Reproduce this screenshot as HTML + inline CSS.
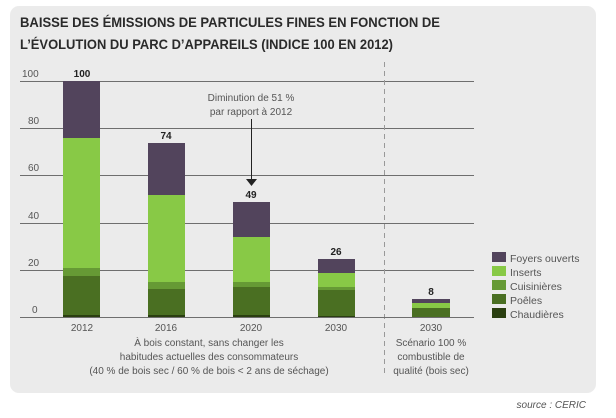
<!DOCTYPE html>
<html><head><meta charset="utf-8"><style>
html,body{margin:0;padding:0;background:#fff;}
svg{display:block;font-family:"Liberation Sans",sans-serif;}
</style></head><body>
<svg width="616" height="418" viewBox="0 0 616 418">
<rect x="10" y="6" width="586" height="387" rx="9" fill="#ebebeb"/>
<text x="20" y="27" font-size="14" font-weight="bold" fill="#2a2a2a" textLength="420" lengthAdjust="spacingAndGlyphs">BAISSE DES ÉMISSIONS DE PARTICULES FINES EN FONCTION DE</text>
<text x="20" y="49" font-size="14" font-weight="bold" fill="#2a2a2a" textLength="373" lengthAdjust="spacingAndGlyphs">L’ÉVOLUTION DU PARC D’APPAREILS (INDICE 100 EN 2012)</text>
<g stroke="#6e6e6e" stroke-width="1">
<line x1="20" y1="81.5" x2="474" y2="81.5"/>
<line x1="20" y1="128.5" x2="474" y2="128.5"/>
<line x1="20" y1="175.5" x2="474" y2="175.5"/>
<line x1="20" y1="223.5" x2="474" y2="223.5"/>
<line x1="20" y1="270.5" x2="474" y2="270.5"/>
</g>
<g font-size="10" fill="#555">
<text x="22" y="77">100</text><text x="28" y="124">80</text><text x="28" y="171">60</text><text x="28" y="219">40</text><text x="28" y="266">20</text><text x="32" y="313">0</text>
</g>
<line x1="384.5" y1="62" x2="384.5" y2="376" stroke="#999" stroke-dasharray="5,4"/>
<!-- bars -->
<g>
<rect x="63" y="81" width="37" height="57" fill="#52445c"/>
<rect x="63" y="138" width="37" height="130" fill="#88c946"/>
<rect x="63" y="268" width="37" height="8" fill="#669a35"/>
<rect x="63" y="276" width="37" height="39" fill="#4a6f22"/>
<rect x="63" y="315" width="37" height="2" fill="#2a3f10"/>

<rect x="148" y="143" width="37" height="52" fill="#52445c"/>
<rect x="148" y="195" width="37" height="87" fill="#88c946"/>
<rect x="148" y="282" width="37" height="7" fill="#669a35"/>
<rect x="148" y="289" width="37" height="26" fill="#4a6f22"/>
<rect x="148" y="315" width="37" height="2" fill="#2a3f10"/>

<rect x="233" y="202" width="37" height="35" fill="#52445c"/>
<rect x="233" y="237" width="37" height="45" fill="#88c946"/>
<rect x="233" y="282" width="37" height="5" fill="#669a35"/>
<rect x="233" y="287" width="37" height="28" fill="#4a6f22"/>
<rect x="233" y="315" width="37" height="2" fill="#2a3f10"/>

<rect x="318" y="259" width="37" height="14" fill="#52445c"/>
<rect x="318" y="273" width="37" height="14" fill="#88c946"/>
<rect x="318" y="287" width="37" height="3" fill="#669a35"/>
<rect x="318" y="290" width="37" height="26" fill="#4a6f22"/>
<rect x="318" y="316" width="37" height="1" fill="#2a3f10"/>

<rect x="412" y="299" width="38" height="4" fill="#52445c"/>
<rect x="412" y="303" width="38" height="5" fill="#88c946"/>
<rect x="412" y="308" width="38" height="9" fill="#4a6f22"/>
</g>
<line x1="20" y1="317.5" x2="474" y2="317.5" stroke="#6e6e6e"/>
<g font-size="10" font-weight="bold" fill="#222" text-anchor="middle">
<text x="82" y="77">100</text><text x="166" y="139">74</text><text x="251" y="198">49</text><text x="336" y="255">26</text><text x="431" y="295">8</text>
</g>
<g font-size="10" fill="#555" text-anchor="middle">
<text x="251" y="101">Diminution de 51 %</text>
<text x="251" y="115">par rapport à 2012</text>
</g>
<line x1="251.5" y1="119" x2="251.5" y2="180" stroke="#222"/>
<polygon points="246,179 257,179 251.5,186" fill="#222"/>
<g font-size="10" fill="#555" text-anchor="middle">
<text x="82" y="331">2012</text><text x="166" y="331">2016</text><text x="251" y="331">2020</text><text x="336" y="331">2030</text><text x="431" y="331">2030</text>
<text x="209" y="346">À bois constant, sans changer les</text>
<text x="209" y="360">habitudes actuelles des consommateurs</text>
<text x="209" y="374">(40 % de bois sec / 60 % de bois &lt; 2 ans de séchage)</text>
<text x="431" y="346">Scénario 100 %</text>
<text x="431" y="360">combustible de</text>
<text x="431" y="374">qualité (bois sec)</text>
</g>
<g font-size="10.5" fill="#555">
<rect x="492" y="252" width="14" height="10" fill="#52445c"/><text x="510" y="262">Foyers ouverts</text>
<rect x="492" y="266" width="14" height="10" fill="#88c946"/><text x="510" y="276">Inserts</text>
<rect x="492" y="280" width="14" height="10" fill="#669a35"/><text x="510" y="290">Cuisinières</text>
<rect x="492" y="294" width="14" height="10" fill="#4a6f22"/><text x="510" y="304">Poêles</text>
<rect x="492" y="308" width="14" height="10" fill="#2a3f10"/><text x="510" y="318">Chaudières</text>
</g>
<text x="586" y="408" font-size="10" font-style="italic" fill="#555" text-anchor="end">source : CERIC</text>
</svg>
</body></html>
